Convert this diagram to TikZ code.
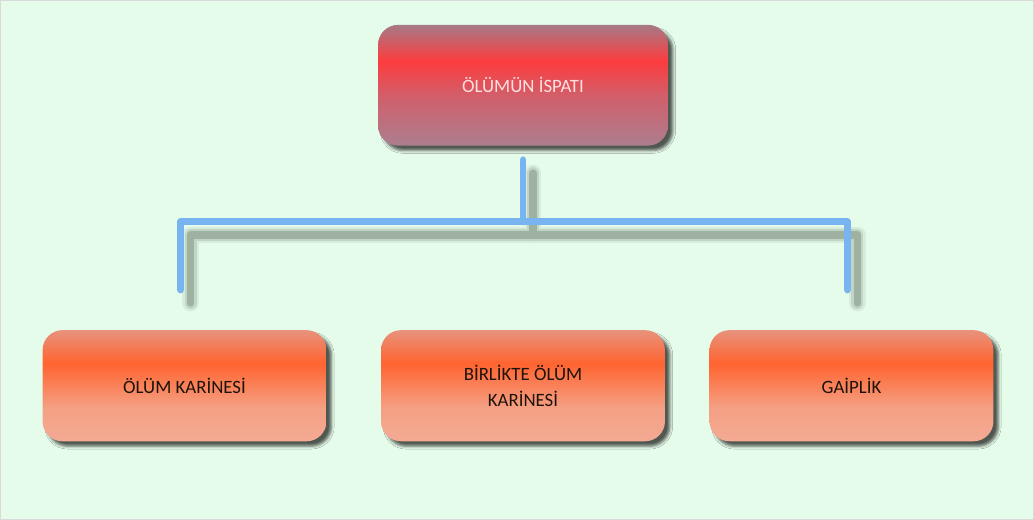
\documentclass[tikz,border=0pt]{standalone}
\usepackage{fontspec}
\setmainfont{Carlito}
\usetikzlibrary{positioning,shadows.blur}
\definecolor{bgmint}{RGB}{230,252,234}
\definecolor{rtop}{RGB}{166,122,134}
\definecolor{rpeak}{RGB}{252,60,62}
\definecolor{rlow}{RGB}{208,96,108}
\definecolor{rbot}{RGB}{172,126,142}
\definecolor{otop}{RGB}{232,146,124}
\definecolor{opeak}{RGB}{255,100,48}
\definecolor{olow}{RGB}{244,160,132}
\definecolor{obot}{RGB}{244,170,148}
\definecolor{linkblue}{RGB}{120,180,240}
\definecolor{linkshade}{RGB}{90,105,92}
\pgfdeclareverticalshading{redbar}{100bp}{color(0bp)=(rbot); color(25bp)=(rbot); color(45bp)=(rlow); color(60bp)=(rpeak); color(75bp)=(rtop); color(100bp)=(rtop)}
\pgfdeclareverticalshading{orangebar}{100bp}{color(0bp)=(obot); color(25bp)=(obot); color(40bp)=(olow); color(60bp)=(opeak); color(75bp)=(otop); color(100bp)=(otop)}
\tikzset{every node/.style={align=center}, font=\fontsize{13.4}{18.5}\selectfont,
  boxshadow/.style={blur shadow={shadow xshift=3.5pt, shadow yshift=-3.5pt, shadow blur radius=2pt, shadow opacity=65}},
  topbox/.style={rounded corners=0.5cm, minimum width=7.25cm, minimum height=3.02cm, shading=redbar, text=white!88!red, boxshadow},
  leafbox/.style={rounded corners=0.5cm, minimum width=7.1cm, minimum height=2.78cm, shading=orangebar, text=black!85!brown, boxshadow},
  link/.style={draw=linkblue, line width=0.175cm, line cap=round, line join=round},
  linkshadow/.style={draw=linkshade, line cap=round, line join=round, transform canvas={shift={(0.25cm,-0.33cm)}}}}

\begin{document}
\begin{tikzpicture}[x=0.025cm, y=-0.025cm]
    \fill[bgmint, draw=gray!30, line width=0.4pt] (0,0) rectangle (1034,519);
    \node [topbox] (top) at (523,85) {ÖLÜMÜN İSPATI};
    \node [leafbox] (mid) [below=4.6cm of top] {BİRLİKTE ÖLÜM\\ KARİNESİ};
    \node [leafbox] (left) [left=1.35cm of mid] {ÖLÜM KARİNESİ};
    \node [leafbox] (right) [right=1.1cm of mid] {GAİPLİK};
    \coordinate (tap) at ([yshift=-0.35cm]top.south);
    \coordinate (bus) at ([yshift=-1.9cm]top.south);
    \coordinate (lend) at ([xshift=-0.1cm,yshift=1cm]left.north);
    \coordinate (rend) at ([xshift=-0.1cm,yshift=1cm]right.north);
    \foreach \w/\o in {0.42cm/0.1, 0.3cm/0.18, 0.18cm/0.32}
        \path[linkshadow, line width=\w, draw opacity=\o] (lend) |- (bus) -| (rend) (tap) -- (tap |- bus);
    \path[link] (lend) |- (bus) -| (rend);
    \path[link] (tap) -- (tap |- bus);
\end{tikzpicture}
\end{document}
